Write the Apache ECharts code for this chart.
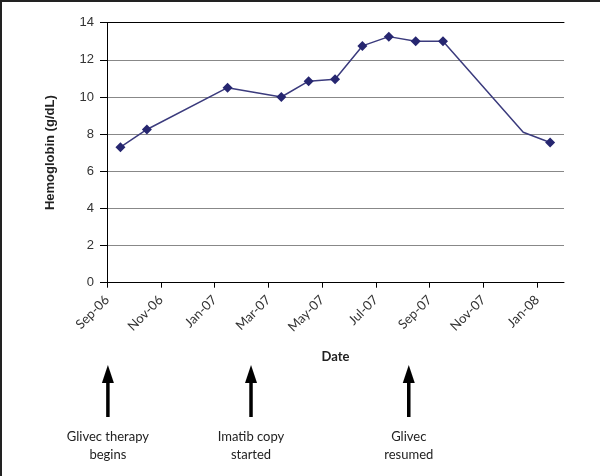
<!DOCTYPE html>
<html>
<head>
<meta charset="utf-8">
<script src="https://cdn.jsdelivr.net/npm/echarts@6/dist/echarts.min.js"></script>
<style>
html,body{margin:0;padding:0;background:#fff;}
#c{width:600px;height:476px;}
</style>
</head>
<body>
<div id="c"></div>
<script>
// ---- data ----
var startMonth = '2006-09';
var dates = ['2006-09-16','2006-10-16','2007-01-16','2007-03-16','2007-04-16','2007-05-16','2007-06-16','2007-07-16','2007-08-16','2007-09-16','2007-12-16','2008-01-16'];
var hemoglobin = [7.3, 8.25, 10.5, 10.0, 10.85, 10.95, 12.75, 13.25, 13.0, 13.0, 8.1, 7.55];
var unmarkedDates = ['2007-12-16'];
var tickLabels = ['Sep-06','Nov-06','Jan-07','Mar-07','May-07','Jul-07','Sep-07','Nov-07','Jan-08'];
var eventDates = ['2006-09-02','2007-02-11','2007-08-08'];
var eventLabels = ['Glivec therapy\nbegins','Imatib copy\nstarted','Glivec\nresumed'];

// months since start (fractional)
function monthPos(d){
  var p = d.split('-').map(Number);
  var s = startMonth.split('-').map(Number);
  var idx = (p[0]-s[0])*12 + (p[1]-s[1]);
  var dim = new Date(p[0], p[1], 0).getDate();
  return idx + ((p[2]||1)-1)/dim;
}
var tickValues = tickLabels.map(function(_,i){return i*2;});
var seriesData = dates.map(function(d,i){
  var item = {value:[monthPos(d), hemoglobin[i]]};
  if (unmarkedDates.indexOf(d) >= 0) item.symbolSize = 0;
  return item;
});

var chart = echarts.init(document.getElementById('c'), null, {renderer:'canvas'});
var labelFont = 'Lato';
chart.setOption({
  animation:false,
  backgroundColor:'#fff',
  grid:{left:107, right:36, top:22.7, bottom:193.3, containLabel:false},
  xAxis:[{
    type:'value', min:0, max:17, interval:2,
    name:'Date', nameLocation:'middle', nameGap:68, nameMoveOverlap:false,
    nameTextStyle:{fontFamily:labelFont, fontWeight:'bold', fontSize:13, color:'#222'},
    axisLine:{show:true, lineStyle:{color:'#000', width:1}},
    axisTick:{show:true, length:5, lineStyle:{color:'#000'}, customValues:tickValues},
    axisLabel:{rotate:45, margin:15, fontFamily:labelFont, fontSize:13, color:'#333',
      customValues:tickValues,
      formatter:function(v){var i=Math.round(v/2); return tickLabels[i]||'';}},
    splitLine:{show:false}
  },{
    type:'value', min:0, max:17, position:'top',
    axisLine:{show:true, lineStyle:{color:'#000', width:1}},
    axisTick:{show:false}, axisLabel:{show:false}, splitLine:{show:false}
  }],
  yAxis:{
    type:'value', min:0, max:14, interval:2,
    name:'Hemoglobin (g/dL)', nameLocation:'middle', nameGap:50, nameRotate:90, nameMoveOverlap:false,
    nameTextStyle:{fontFamily:'Liberation Sans', fontWeight:'bold', fontSize:13, color:'#222'},
    axisLine:{show:true, lineStyle:{color:'#000', width:1}},
    axisTick:{show:true, length:7, lineStyle:{color:'#000'}},
    axisLabel:{margin:13, fontFamily:'Liberation Sans', fontSize:13, color:'#333'},
    splitLine:{show:true, lineStyle:{color:'#888', width:1}}
  },
  series:[{
    type:'line', data:seriesData,
    symbol:'diamond', symbolSize:10, showAllSymbol:true,
    lineStyle:{color:'#3b3b7d', width:1.5},
    itemStyle:{color:'#262670'}
  }]
});

// annotations below the chart, placed on the date scale
var g = [
  {type:'line', shape:{x1:1, y1:0, x2:1, y2:476}, style:{stroke:'#222', lineWidth:2}},
  {type:'line', shape:{x1:0, y1:1, x2:600, y2:1}, style:{stroke:'#222', lineWidth:2}}
];
eventDates.forEach(function(d,i){
  var x = chart.convertToPixel({xAxisIndex:0}, monthPos(d));
  g.push({type:'line', shape:{x1:x, y1:380, x2:x, y2:417}, style:{stroke:'#000', lineWidth:3.5}});
  g.push({type:'polygon', shape:{points:[[x,365],[x-6,383],[x+6,383]]}, style:{fill:'#000'}});
  g.push({type:'text', x:x, y:428, style:{text:eventLabels[i], fontFamily:labelFont, fontSize:13, fill:'#222', align:'center', verticalAlign:'top', lineHeight:18}});
});
chart.setOption({graphic:g});
</script>
</body>
</html>
